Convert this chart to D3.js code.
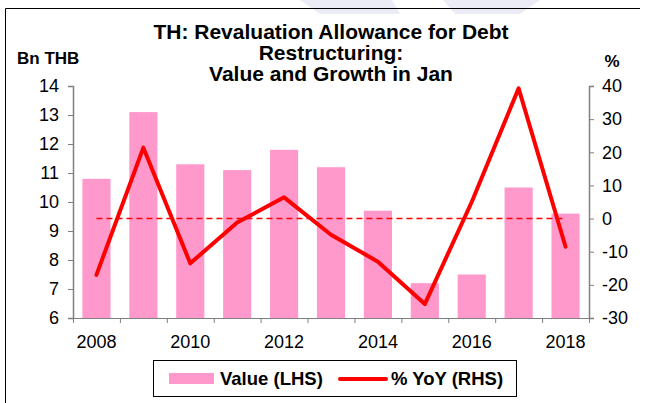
<!DOCTYPE html>
<html lang="en">
    <head>
        <meta charset="utf-8">
        <title>TH: Revaluation Allowance for Debt Restructuring</title>
        <script type="text/javascript" src="https://d3js.org/d3.v7.min.js"></script>
        <style type="text/css">
            body { margin: 0; background: #fff; }
            text { font-family: "Liberation Sans", Arial, sans-serif; fill: #000; }
        </style>
    </head>
    <body>
        <script type="text/javascript">

        //Data
        const years = ["2008","2009","2010","2011","2012","2013","2014","2015","2016","2017","2018"];
        const value = [10.8, 13.1, 11.3, 11.1, 11.8, 11.2, 9.7, 7.2, 7.5, 10.5, 9.6];
        const yoy = [-17.0, 21.4, -13.5, -1.2, 6.4, -4.9, -13.0, -25.8, 5.0, 39.3, -8.5];
        const leftTicks = [6, 7, 8, 9, 10, 11, 12, 13, 14];
        const rightTicks = [-30, -20, -10, 0, 10, 20, 30, 40];
        const titleLines = ["TH: Revaluation Allowance for Debt", "Restructuring:", "Value and Growth in Jan"];

        //Consts
        const width = 647;
        const height = 403;
        const plotLeft = 73, plotRight = 589, plotTop = 86, plotBottom = 318;
        const tickFont = "18px";

        const svg = d3.select("body")
                    .append("svg")
                    .attr("width", width)
                    .attr("height", height);

        //faint watermark at top
        svg.append("polygon")
            .attr("points", "300,0 392,0 400,14 320,14")
            .attr("fill", "#ececf6");
        svg.append("polygon")
            .attr("points", "443,0 540,0 520,14 455,14")
            .attr("fill", "#ececf6");

        //frame (top + left)
        svg.append("path")
            .attr("d", "M5.5,403 V8.5 H640")
            .attr("fill", "none")
            .attr("stroke", "#000")
            .attr("stroke-width", 1);

        //Scales
        const xScale = d3.scaleBand()
                        .domain(years)
                        .range([plotLeft, plotRight])
                        .paddingInner(0.4)
                        .paddingOuter(0.2);

        const xBand = d3.scaleBand()
                        .domain(years)
                        .range([plotLeft, plotRight]);

        const yLeft = d3.scaleLinear()
                        .domain([6, 14])
                        .range([plotBottom, plotTop]);

        const yRight = d3.scaleLinear()
                        .domain([-30, 40])
                        .range([plotBottom, plotTop]);

        //Bars
        svg.selectAll("rect.bar")
            .data(years)
            .enter()
            .append("rect")
            .attr("class", "bar")
            .attr("x", d => xScale(d))
            .attr("y", (d, i) => yLeft(value[i]))
            .attr("width", xScale.bandwidth())
            .attr("height", (d, i) => plotBottom - yLeft(value[i]))
            .attr("fill", "#ff99cc");

        //Zero line (dashed)
        svg.append("line")
            .attr("x1", xBand(years[0]) + xBand.bandwidth() / 2)
            .attr("x2", xBand(years[years.length - 1]) + xBand.bandwidth() / 2)
            .attr("y1", yRight(0))
            .attr("y2", yRight(0))
            .attr("stroke", "#ff0000")
            .attr("stroke-width", 1.5)
            .attr("stroke-dasharray", "6,4");

        //Line
        const line = d3.line()
                    .x((d, i) => xBand(years[i]) + xBand.bandwidth() / 2)
                    .y(d => yRight(d));

        svg.append("path")
            .datum(yoy)
            .attr("d", line)
            .attr("fill", "none")
            .attr("stroke", "#ff0000")
            .attr("stroke-width", 4)
            .attr("stroke-linejoin", "round")
            .attr("stroke-linecap", "round");

        //Axes
        const axisColor = "#808080";

        const leftAxis = d3.axisLeft(yLeft)
                        .tickValues(leftTicks)
                        .tickFormat(d => String(d))
                        .tickSize(5)
                        .tickPadding(9);
        const gl = svg.append("g")
            .attr("transform", "translate(" + plotLeft + ",0)")
            .call(leftAxis);

        const rightAxis = d3.axisRight(yRight)
                        .tickValues(rightTicks)
                        .tickFormat(d => String(d))
                        .tickSize(5)
                        .tickPadding(8);
        const gr = svg.append("g")
            .attr("transform", "translate(" + plotRight + ",0)")
            .call(rightAxis);

        //x axis: ticks at band edges, labels every 2 years
        const gx = svg.append("g");
        gx.append("line")
            .attr("x1", plotLeft).attr("x2", plotRight)
            .attr("y1", plotBottom + 0.5).attr("y2", plotBottom + 0.5)
            .attr("stroke", axisColor);
        gx.selectAll("line.tick")
            .data(years.concat(["end"]))
            .enter()
            .append("line")
            .attr("class", "tick")
            .attr("x1", (d, i) => plotLeft + i * xBand.step() + 0.5)
            .attr("x2", (d, i) => plotLeft + i * xBand.step() + 0.5)
            .attr("y1", plotBottom)
            .attr("y2", plotBottom + 5)
            .attr("stroke", axisColor);
        gx.selectAll("text")
            .data(years.filter((d, i) => i % 2 === 0))
            .enter()
            .append("text")
            .attr("x", d => xBand(d) + xBand.bandwidth() / 2)
            .attr("y", 348)
            .attr("text-anchor", "middle")
            .attr("font-size", tickFont)
            .text(d => d);

        [gl, gr].forEach(g => {
            g.select(".domain").attr("stroke", axisColor).attr("stroke-width", 1.5);
            g.selectAll(".tick line").attr("stroke", axisColor);
            g.selectAll(".tick text")
                .attr("font-size", tickFont)
                .attr("font-family", "Liberation Sans, Arial, sans-serif")
                .attr("fill", "#000");
        });

        //Title
        svg.selectAll("text.title")
            .data(titleLines)
            .enter()
            .append("text")
            .attr("class", "title")
            .attr("x", 331)
            .attr("y", (d, i) => 39 + i * 21)
            .attr("text-anchor", "middle")
            .attr("font-size", "21px")
            .attr("font-weight", "bold")
            .text(d => d);

        svg.append("text")
            .attr("x", 17)
            .attr("y", 64)
            .attr("font-size", "17px")
            .attr("font-weight", "bold")
            .text("Bn THB");

        svg.append("text")
            .attr("x", 612)
            .attr("y", 67)
            .attr("text-anchor", "middle")
            .attr("font-size", "17px")
            .attr("font-weight", "bold")
            .text("%");

        //Legend
        const lg = svg.append("g");
        lg.append("rect")
            .attr("x", 153.5).attr("y", 360.5)
            .attr("width", 363).attr("height", 36)
            .attr("fill", "#fff")
            .attr("stroke", "#000");
        lg.append("rect")
            .attr("x", 169).attr("y", 373)
            .attr("width", 45).attr("height", 11)
            .attr("fill", "#ff99cc");
        lg.append("text")
            .attr("x", 220).attr("y", 385)
            .attr("font-size", "18.5px")
            .attr("font-weight", "bold")
            .text("Value (LHS)");
        lg.append("line")
            .attr("x1", 340).attr("x2", 386)
            .attr("y1", 379).attr("y2", 379)
            .attr("stroke", "#ff0000")
            .attr("stroke-width", 4)
            .attr("stroke-linecap", "round");
        lg.append("text")
            .attr("x", 391).attr("y", 385)
            .attr("font-size", "18.5px")
            .attr("font-weight", "bold")
            .text("% YoY (RHS)");

        </script>
    </body>
</html>
